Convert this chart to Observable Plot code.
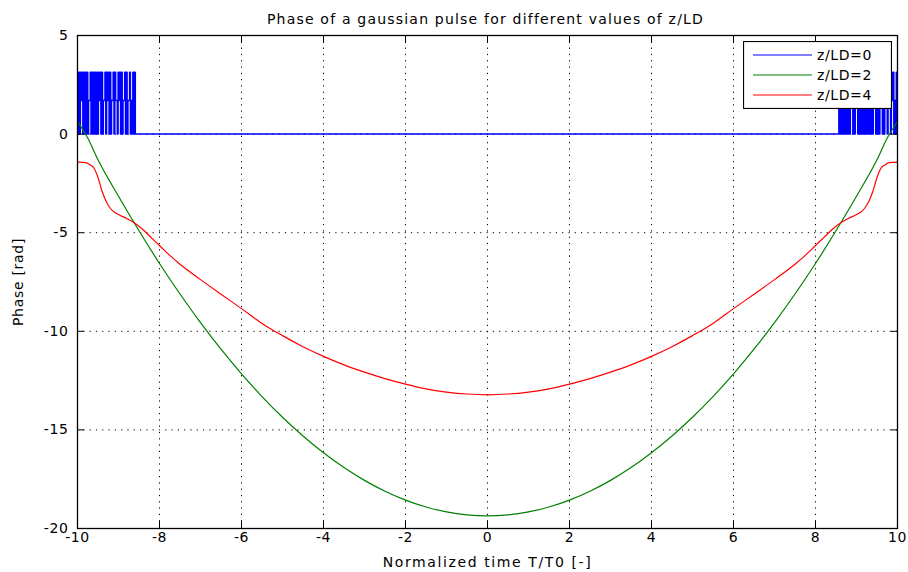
<!DOCTYPE html>
<html><head><meta charset="utf-8">
<script src="https://cdn.jsdelivr.net/npm/d3@7"></script>
<script src="https://cdn.jsdelivr.net/npm/@observablehq/plot@0.6"></script>
<style>
body{margin:0;background:#fff;}
#wrap{position:relative;width:908px;height:572px;}
#legend{position:absolute;left:743px;top:41px;}
</style>
</head><body>
<div id="wrap"></div>
<script>
// ---- data ----
const title = "Phase of a gaussian pulse for different values of z/LD";
const xLabel = "Normalized time T/T0 [-]";
const yLabel = "Phase [rad]";
const seriesNames = ["z/LD=0", "z/LD=2", "z/LD=4"];
const seriesColors = ["#0000ff", "#008000", "#ff0000"];
const xTicks = [-10, -8, -6, -4, -2, 0, 2, 4, 6, 8, 10];
const yTicks = [-20, -15, -10, -5, 0, 5];

// z/LD=0 : numerical noise in the tails (sampled every 0.02)
const blueStep = 0.02;
const blueLeftStart = -10;
const blueLeft = [3.14,0,3.14,0,3.14,1.7,3.14,0,3.14,0,3.14,0,3.14,0,1.7,1.7,3.14,0,3.14,0,
  3.14,0,3.14,0,3.14,0,3.14,1.7,3.14,0,3.14,0,1.7,1.7,3.14,0,3.14,1.7,3.14,0,
  3.14,0,1.7,1.7,3.14,0,3.14,1.7,1.7,0,3.14,1.7,3.14,0,3.14,0,1.7,1.7,3.14,0,
  3.14,0,1.7,1.7,3.14,0,1.7,0,3.14,0,3.14,0];
const blueRightStart = 8.56;
const blueRight = [0,3.14,0,3.14,0,3.14,0,3.14,0,3.14,0,1.7,0,3.14,0,3.14,1.7,3.14,0,3.14,
  0,3.14,1.7,3.14,0,1.7,0,3.14,0,3.14,0,3.14,0,3.14,0,3.14,0,3.14,0,1.7,
  0,3.14,0,3.14,1.7,3.14,0,3.14,0,1.7,0,3.14,1.7,3.14,0,3.14,0,3.14,1.7,1.7,
  0,3.14,1.7,3.14,0,3.14,1.7,3.14,0,1.7,0,3.14,0];

// z/LD=2
const greenT = [-10,-9.75,-9.5,-9,-8.5,-8,-7.5,-7,-6.5,-6,-5.5,-5,-4.5,-4,-3.5,-3,-2.5,-2,-1.5,-1,-0.5,0,
  0.5,1,1.5,2,2.5,3,3.5,4,4.5,5,5.5,6,6.5,7,7.5,8,8.5,9,9.5,9.75,10];
const greenPhase = [0.64,-0.2,-1.3,-3.15,-4.9,-6.56,-8.11,-9.56,-10.91,-12.16,-13.31,-14.36,-15.31,-16.16,-16.91,-17.56,-18.11,-18.56,-18.91,-19.16,-19.31,-19.36,
  -19.31,-19.16,-18.91,-18.56,-18.11,-17.56,-16.91,-16.16,-15.31,-14.36,-13.31,-12.16,-10.91,-9.56,-8.11,-6.56,-4.9,-3.15,-1.3,-0.2,0.64];

// z/LD=4
const redT = [-10,-9.8,-9.7,-9.6,-9.5,-9.4,-9.3,-9.2,-9.1,-9,-8.8,-8.6,-8.4,-8.2,-8,-7.75,-7.5,-7,-6.5,-6,-5.5,-5,-4.5,-4,-3.5,-3,-2.5,-2,-1.5,-1,-0.5,0,
  0.5,1,1.5,2,2.5,3,3.5,4,4.5,5,5.5,6,6.5,7,7.5,7.75,8,8.2,8.4,8.6,8.8,9,9.1,9.2,9.3,9.4,9.5,9.6,9.7,9.8,10];
const redPhase = [-1.42,-1.45,-1.55,-1.72,-2.2,-2.9,-3.42,-3.76,-3.96,-4.08,-4.28,-4.52,-4.85,-5.25,-5.65,-6.15,-6.6,-7.38,-8.12,-8.85,-9.6,-10.22,-10.78,-11.27,-11.7,-12.07,-12.4,-12.68,-12.92,-13.08,-13.18,-13.22,
  -13.18,-13.08,-12.92,-12.68,-12.4,-12.07,-11.7,-11.27,-10.78,-10.22,-9.6,-8.85,-8.12,-7.38,-6.6,-6.15,-5.65,-5.25,-4.85,-4.52,-4.28,-4.08,-3.96,-3.76,-3.42,-2.9,-2.2,-1.72,-1.55,-1.45,-1.42];

// ---- tables ----
const blueData = [
  ...blueLeft.map((v, i) => ({t: blueLeftStart + i * blueStep, phase: v})),
  ...blueRight.map((v, i) => ({t: blueRightStart + i * blueStep, phase: v}))
];
const greenData = greenT.map((t, i) => ({t, phase: greenPhase[i]}));
const redData = redT.map((t, i) => ({t, phase: redPhase[i]}));
const fmt = d => String(d);

const chart = Plot.plot({
  width: 908, height: 572,
  marginLeft: 77, marginRight: 11, marginTop: 35, marginBottom: 44,
  style: {fontFamily: "DejaVu Sans", fontSize: "14px", letterSpacing: "0.6px", color: "#000", background: "#fff"},
  x: {domain: [-10, 10]},
  y: {domain: [-20, 5]},
  marks: [
    Plot.gridX(xTicks, {stroke: "#000", strokeOpacity: 1, strokeDasharray: "1.2 5.1"}),
    Plot.gridY(yTicks, {stroke: "#000", strokeOpacity: 1, strokeDasharray: "1.2 5.1"}),
    Plot.line(blueData, {x: "t", y: "phase", stroke: seriesColors[0], strokeWidth: 1.5, curve: "step"}),
    Plot.line(greenData, {x: "t", y: "phase", stroke: seriesColors[1], strokeWidth: 1.2, curve: "monotone-x"}),
    Plot.line(redData, {x: "t", y: "phase", stroke: seriesColors[2], strokeWidth: 1.2, curve: "monotone-x"}),
    Plot.frame({stroke: "#000", strokeWidth: 1.3}),
    Plot.axisX(xTicks, {anchor: "bottom", tickSize: 7, dy: -7, fill: "none", label: null}),
    Plot.axisX(xTicks, {anchor: "top", tickSize: 7, dy: 7, fill: "none", label: null}),
    Plot.axisY(yTicks, {anchor: "left", tickSize: 7, dx: 7, fill: "none", label: null}),
    Plot.axisY(yTicks, {anchor: "right", tickSize: 7, dx: -7, fill: "none", label: null}),
    Plot.axisX(xTicks, {anchor: "bottom", tickSize: 0, tickPadding: 4, tickFormat: fmt, label: xLabel, labelAnchor: "center", labelOffset: 38, labelArrow: "none"}),
    Plot.axisY(yTicks, {anchor: "left", tickSize: 0, tickPadding: 9, tickFormat: fmt, label: yLabel, labelAnchor: "center", labelOffset: 64, labelArrow: "none"}),
    Plot.text([title], {text: d => d, frameAnchor: "top", dy: -21, dx: -2, fontSize: 14})
  ]
});

// per-text letter spacing to mimic the wide original rendering
d3.select(chart).selectAll("text").each(function () {
  const s = this.textContent.replace(/\s*[→↑]\s*$/, "");
  if (s === title) this.style.letterSpacing = "1.2px";
  else if (s === xLabel) this.style.letterSpacing = "1.6px";
  else if (s === yLabel) this.style.letterSpacing = "0.7px";
});

const wrap = document.getElementById("wrap");
wrap.appendChild(chart);

// legend (inline SVG overlay, top-right inside the axes)
const lg = d3.create("svg")
  .attr("id", "legend")
  .attr("width", 149).attr("height", 68)
  .style("font-family", "DejaVu Sans").style("font-size", "14px").style("letter-spacing", "0.6px");
lg.append("rect").attr("x", 0.5).attr("y", 0.5).attr("width", 148).attr("height", 67)
  .attr("fill", "#fff").attr("stroke", "#000").attr("stroke-width", 1.2);
seriesNames.forEach((name, i) => {
  const cy = 14 + i * 20;
  lg.append("line").attr("x1", 10).attr("x2", 69).attr("y1", cy).attr("y2", cy)
    .attr("stroke", seriesColors[i]).attr("stroke-width", 1.2);
  lg.append("text").attr("x", 74).attr("y", cy).attr("dy", "0.35em").attr("fill", "#000").text(name);
});
wrap.appendChild(lg.node());
</script>
</body></html>
